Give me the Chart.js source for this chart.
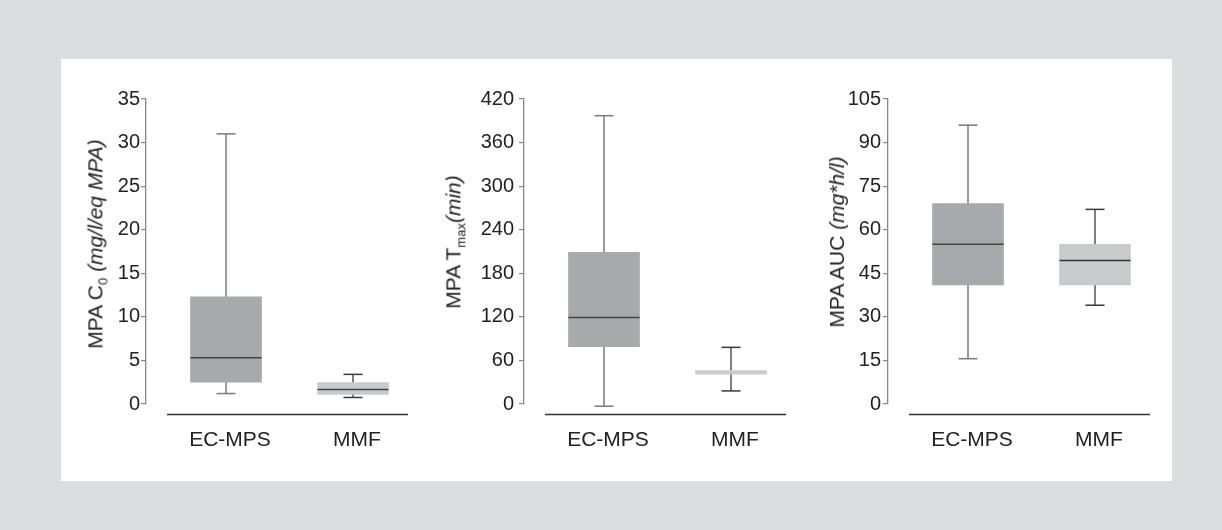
<!DOCTYPE html>
<html>
<head>
<meta charset="utf-8">
<script src="https://cdn.jsdelivr.net/npm/chart.js@4"></script>
<style>
body { margin:0; background:#dcdddf; width:1222px; height:530px; position:relative; overflow:hidden; font-family:"Liberation Sans", Arial, sans-serif; }
#painel { position:absolute; left:61px; top:59px; width:1111px; height:422px; background:#fff; }
.graf { position:absolute; top:62px; }
.titulo { position:absolute; transform:translate(-50%,-50%) rotate(-90deg); white-space:nowrap; font-size:21px; color:#222; }
.titulo sub { font-size:13px; }
</style>
</head>
<body>
<div id="painel"></div>
<canvas id="g1" class="graf" width="359" height="418" style="left:86px"></canvas>
<canvas id="g2" class="graf" width="359" height="418" style="left:464px"></canvas>
<canvas id="g3" class="graf" width="359" height="418" style="left:828px"></canvas>
<div class="titulo" style="left:97px;top:244px">MPA C<sub>0</sub> <i>(mg/l/eq MPA)</i></div>
<div class="titulo" style="left:455px;top:242px">MPA T<sub>max</sub><i>(min)</i></div>
<div class="titulo" style="left:837px;top:242px">MPA AUC <i>(mg*h/l)</i></div>
<script>
// categorias
const categorias = ['EC-MPS', 'MMF'];

// C0 (mg/l/eq MPA)
const c0Min = [1.2, 0.75];
const c0Q1  = [2.5, 1.1];
const c0Med = [5.3, 1.65];
const c0Q3  = [12.3, 2.45];
const c0Max = [31, 3.4];

// Tmax (min)
const tmaxMin = [-3, 18];
const tmaxQ1  = [79, 41];
const tmaxMed = [119, 43.5];
const tmaxQ3  = [209, 46];
const tmaxMax = [397, 78];

// AUC (mg*h/l)
const aucMin = [15.6, 34];
const aucQ1  = [41, 41];
const aucMed = [55, 49.4];
const aucQ3  = [69, 55];
const aucMax = [96, 67];

Chart.defaults.font.family = '"Liberation Sans", Arial, sans-serif';
Chart.defaults.animation = false;

const xMin = 1 - 80 / 127;
const xMax = 2 + 55 / 127;

// linha de base do eixo x (deslocada abaixo do zero)
const linhaBase = {
    id: 'linhaBase',
    afterDraw(chart) {
        const a = chart.chartArea;
        const ctx = chart.ctx;
        ctx.save();
        ctx.strokeStyle = '#333';
        ctx.lineWidth = 1.5;
        ctx.beginPath();
        ctx.moveTo(a.left + 21, a.bottom + 10.5);
        ctx.lineTo(a.right, a.bottom + 10.5);
        ctx.stroke();
        ctx.restore();
    }
};

function criarGrafico(id, min, q1, med, q3, max, yMax, passo, corMediana, padTick) {
    const ctx = document.getElementById(id).getContext('2d');
    return new Chart(ctx, {
        type: 'bar',
        data: {
            datasets: [
                {   // medianas
                    type: 'line',
                    data: categorias.map((c, i) => ({x: i + 1, y: med[i]})),
                    showLine: false,
                    pointStyle: 'line',
                    pointRadius: 35.5,
                    pointBorderWidth: 1.5,
                    pointBorderColor: corMediana,
                    order: 0,
                    clip: false
                },
                {   // extremos
                    type: 'line',
                    data: [
                        {x: 1, y: min[0]}, {x: 1, y: max[0]},
                        {x: 2, y: min[1]}, {x: 2, y: max[1]}
                    ],
                    showLine: false,
                    pointStyle: 'line',
                    pointRadius: 9.5,
                    pointBorderWidth: 1.5,
                    pointBorderColor: ['#7a7a7a', '#7a7a7a', '#3a3a3a', '#3a3a3a'],
                    order: 1,
                    clip: false
                },
                {   // caixas
                    type: 'bar',
                    data: categorias.map((c, i) => ({x: i + 1, y: [q1[i], q3[i]]})),
                    backgroundColor: ['#a8a9ac', '#c9cacc'],
                    barThickness: 71,
                    borderWidth: 0,
                    order: 2
                },
                {   // bigode EC-MPS
                    type: 'line',
                    data: [{x: 1, y: min[0]}, {x: 1, y: max[0]}],
                    borderColor: '#7a7a7a',
                    borderWidth: 1.5,
                    pointRadius: 0,
                    order: 3,
                    clip: false
                },
                {   // bigode MMF
                    type: 'line',
                    data: [{x: 2, y: min[1]}, {x: 2, y: max[1]}],
                    borderColor: '#3a3a3a',
                    borderWidth: 1.3,
                    pointRadius: 0,
                    order: 3,
                    clip: false
                }
            ]
        },
        options: {
            responsive: false,
            layout: { padding: { top: 32, right: 8, left: 0, bottom: 0 } },
            plugins: { legend: { display: false }, tooltip: { enabled: false } },
            scales: {
                x: {
                    type: 'linear',
                    offset: false,
                    bounds: 'data',
                    min: xMin,
                    max: xMax,
                    // marcas vazias nas pontas para não reservar espaço lateral
                    afterBuildTicks: s => { s.ticks = [{value: xMin}, {value: 1}, {value: 2}, {value: xMax}]; },
                    afterFit: s => { s.height = 76; s.paddingLeft = 0; s.paddingRight = 0; },
                    grid: { display: true, drawOnChartArea: false, drawTicks: true, tickLength: 24, tickColor: 'rgba(0,0,0,0)', offset: false },
                    border: { display: false },
                    ticks: {
                        callback: v => (v === 1 || v === 2) ? categorias[v - 1] : '',
                        color: '#222',
                        font: { size: 21 },
                        padding: 0,
                        labelOffset: 4,
                        maxRotation: 0,
                        autoSkip: false
                    }
                },
                y: {
                    min: 0,
                    max: yMax,
                    afterFit: s => { s.width = 60; },
                    grid: { drawOnChartArea: false, tickLength: 5, color: '#888', lineWidth: 1.2 },
                    border: { color: '#888', width: 1.3 },
                    ticks: { stepSize: passo, color: '#222', font: { size: 20 }, padding: padTick }
                }
            }
        },
        plugins: [linhaBase]
    });
}

window.onload = function() {
    criarGrafico('g1', c0Min, c0Q1, c0Med, c0Q3, c0Max, 35, 5, ['#444', '#444'], 1);
    criarGrafico('g2', tmaxMin, tmaxQ1, tmaxMed, tmaxQ3, tmaxMax, 420, 60, ['#444', '#c9cacc'], 5);
    criarGrafico('g3', aucMin, aucQ1, aucMed, aucQ3, aucMax, 105, 15, ['#444', '#333'], 2);
};
</script>
</body>
</html>
